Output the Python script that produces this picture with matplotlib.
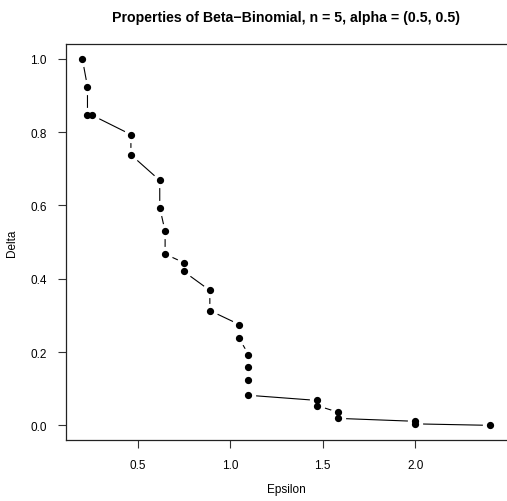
import matplotlib
matplotlib.use("Agg")
import matplotlib.pyplot as plt

plt.rcParams['font.family'] = ['Liberation Sans', 'DejaVu Sans']

title = "Properties of Beta\u2212Binomial, n = 5, alpha = (0.5, 0.5)"
epsilon = [0.199, 0.227, 0.227, 0.251, 0.462, 0.462, 0.618, 0.618, 0.647, 0.647,
           0.747, 0.747, 0.889, 0.889, 1.048, 1.048, 1.098, 1.098, 1.098, 1.098,
           1.468, 1.468, 1.581, 1.581, 2.000, 2.000, 2.403]
delta = [1.000, 0.924, 0.846, 0.846, 0.793, 0.738, 0.668, 0.594, 0.529, 0.467,
         0.444, 0.420, 0.368, 0.313, 0.275, 0.237, 0.193, 0.159, 0.125, 0.082,
         0.068, 0.054, 0.036, 0.019, 0.011, 0.004, 0.000]
xticks = [0.5, 1.0, 1.5, 2.0]
yticks = [0.0, 0.2, 0.4, 0.6, 0.8, 1.0]

W, H = 507, 502
fig = plt.figure(figsize=(W / 100, H / 100), dpi=100)
ax = fig.add_axes([66 / W, (H - 441) / H, (506 - 66) / W, (441 - 45) / H])

ax.plot(epsilon, delta, color='black', lw=0.8, zorder=1)
ax.plot(epsilon, delta, 'o', ms=10, color='white', mec='white', lw=0, zorder=2)
ax.plot(epsilon, delta, 'o', ms=4.2, color='black', mec='black', lw=0, zorder=3)

xmin, xmax = min(epsilon), max(epsilon)
pad = 0.04 * (xmax - xmin)
ax.set_xlim(xmin - pad, xmax + pad)
ax.set_ylim(-0.04, 1.04)
ax.set_xticks(xticks)
ax.set_xticklabels([f"{v:.1f}" for v in xticks])
ax.set_yticks(yticks)
ax.set_yticklabels([f"{v:.1f}" for v in yticks])
ax.tick_params(direction='out', length=6, width=0.8, labelsize=8.5, color='#333333', pad=8)
for s in ax.spines.values():
    s.set_linewidth(0.9)
    s.set_color('#222222')
ax.spines['right'].set_visible(False)

fig.text((66 + 506) / 2 / W, 1 - 18 / H, title, ha='center', va='center',
         fontsize=10.2, fontweight='bold')
fig.text((66 + 506) / 2 / W, 1 - 490 / H, "Epsilon", ha='center', va='center', fontsize=8.5)
fig.text(12 / W, 1 - 243 / H, "Delta", ha='center', va='center', rotation=90, fontsize=8.5)

fig.savefig("out.png", dpi=100)
